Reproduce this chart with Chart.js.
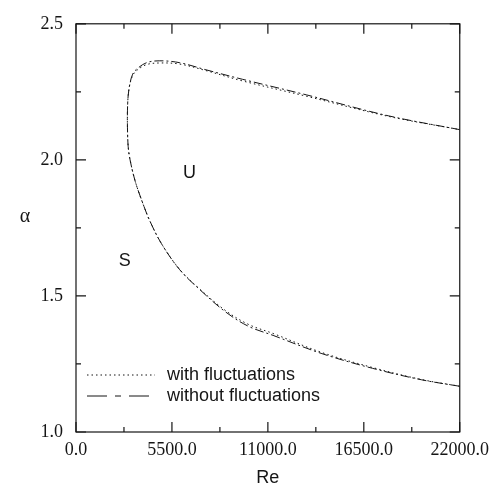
<!DOCTYPE html>
<html>
<head>
<meta charset="utf-8">
<script src="https://cdn.jsdelivr.net/npm/chart.js@4.4.1/dist/chart.umd.min.js"></script>
<style>
  body { margin: 0; background: #fff; }
  #wrap { width: 496px; height: 483px; }
</style>
</head>
<body>
<div id="wrap"><canvas id="graph"></canvas></div>
<script>
// neutral curve, ordered from lower branch end round the nose to upper branch end
const reWithout = [22000, 19800, 17000, 14100, 11300, 9900, 8600, 7100, 5950, 4900, 4230, 3850, 3400, 3100, 2990, 2950, 2950, 2990, 3090, 3250, 3470, 4040, 4800, 5950, 7450, 9550, 13200, 17900, 22000]
const alphaWithout = [1.168, 1.192, 1.234, 1.288, 1.355, 1.388, 1.44, 1.523, 1.596, 1.692, 1.776, 1.837, 1.92, 2.0, 2.05, 2.12, 2.18, 2.235, 2.28, 2.315, 2.333, 2.357, 2.364, 2.357, 2.331, 2.296, 2.239, 2.162, 2.111]

const reWith = [22000, 19800, 17000, 14100, 11300, 9900, 8600, 7100, 5950, 4900, 4230, 3850, 3400, 3100, 2990, 2950, 2950, 2990, 3090, 3250, 3470, 4040, 4800, 5950, 7450, 9550, 13200, 17900, 22000]
const alphaWith = [1.168, 1.193, 1.237, 1.292, 1.362, 1.395, 1.445, 1.525, 1.597, 1.692, 1.776, 1.837, 1.92, 2.0, 2.05, 2.12, 2.18, 2.235, 2.278, 2.31, 2.328, 2.35, 2.356, 2.352, 2.328, 2.29, 2.234, 2.16, 2.111]

const xMajor = [0, 5500, 11000, 16500, 22000]
const xMinor = [2750, 8250, 13750, 19250]
const yMajor = [1.0, 1.5, 2.0, 2.5]
const yMinor = [1.25, 1.75, 2.25]

const seriesNames = ['with fluctuations', 'without fluctuations']
const regionLabels = [
  { text: 'U', re: 6500, alpha: 1.952 },
  { text: 'S', re: 2800, alpha: 1.627 }
]

function toPoints(xs, ys) {
  return xs.map((x, i) => ({ x: x, y: ys[i] }))
}

const serif = 'Liberation Serif, Times New Roman, serif'
const sans = 'Liberation Sans, Arial, Helvetica, sans-serif'
const ink = '#151515'

// frame, inward ticks on all sides, legend and the U / S marks
const extras = {
  id: 'extras',
  afterDraw(chart) {
    const ctx = chart.ctx
    const a = chart.chartArea
    const xs = chart.scales.x
    const ys = chart.scales.y
    ctx.save()
    ctx.strokeStyle = ink
    ctx.lineWidth = 1.2
    ctx.setLineDash([])
    ctx.strokeRect(a.left, a.top, a.right - a.left, a.bottom - a.top)

    function xTick(v, len) {
      const p = xs.getPixelForValue(v)
      ctx.beginPath()
      ctx.moveTo(p, a.bottom); ctx.lineTo(p, a.bottom - len)
      ctx.moveTo(p, a.top); ctx.lineTo(p, a.top + len)
      ctx.stroke()
    }
    function yTick(v, len) {
      const p = ys.getPixelForValue(v)
      ctx.beginPath()
      ctx.moveTo(a.left, p); ctx.lineTo(a.left + len, p)
      ctx.moveTo(a.right, p); ctx.lineTo(a.right - len, p)
      ctx.stroke()
    }
    xMajor.forEach(v => xTick(v, 10))
    xMinor.forEach(v => xTick(v, 5))
    yMajor.forEach(v => yTick(v, 10))
    yMinor.forEach(v => yTick(v, 5))

    // legend
    ctx.lineWidth = 1
    const lx0 = a.left + 11, lx1 = a.left + 79
    ctx.setLineDash([1.5, 3])
    ctx.beginPath(); ctx.moveTo(lx0, 375); ctx.lineTo(lx1, 375); ctx.stroke()
    ctx.setLineDash([20, 8, 6, 8])
    ctx.beginPath(); ctx.moveTo(lx0, 396); ctx.lineTo(lx1, 396); ctx.stroke()
    ctx.setLineDash([])
    ctx.fillStyle = ink
    ctx.font = '18px ' + sans
    ctx.textAlign = 'left'
    ctx.textBaseline = 'middle'
    ctx.fillText(seriesNames[0], a.left + 91, 375)
    ctx.fillText(seriesNames[1], a.left + 91, 396)

    // region marks
    ctx.textAlign = 'center'
    regionLabels.forEach(l => {
      ctx.fillText(l.text, xs.getPixelForValue(l.re), ys.getPixelForValue(l.alpha))
    })

    // y axis symbol, upright
    ctx.font = '20px ' + serif
    ctx.fillText('\u03b1', 25, 217)
    ctx.restore()
  }
}

const graph = new Chart(document.getElementById('graph'), {
  type: 'scatter',
  data: {
    datasets: [{
      label: seriesNames[0],
      data: toPoints(reWith, alphaWith),
      showLine: true,
      borderColor: ink,
      borderWidth: 1,
      borderDash: [1.5, 3],
      pointRadius: 0,
      tension: 0.35
    }, {
      label: seriesNames[1],
      data: toPoints(reWithout, alphaWithout),
      showLine: true,
      borderColor: ink,
      borderWidth: 1,
      borderDash: [9, 3, 2, 3],
      pointRadius: 0,
      tension: 0.35
    }]
  },
  options: {
    responsive: true,
    maintainAspectRatio: false,
    animation: false,
    layout: { padding: { left: 0, right: 35, top: 16, bottom: 0 } },
    plugins: { legend: { display: false }, tooltip: { enabled: false } },
    scales: {
      x: {
        type: 'linear',
        min: 0,
        max: 22000,
        grid: { display: false, drawTicks: false },
        border: { display: false },
        afterBuildTicks(scale) { scale.ticks = xMajor.map(v => ({ value: v })) },
        afterFit(scale) { scale.height = 51 },
        ticks: {
          color: ink,
          padding: 7,
          maxRotation: 0,
          font: { family: serif, size: 18 },
          callback: v => v.toFixed(1)
        },
        title: {
          display: true,
          text: 'Re',
          color: ink,
          font: { family: sans, size: 18 },
          padding: { top: -6, bottom: -6 }
        }
      },
      y: {
        type: 'linear',
        min: 1.0,
        max: 2.5,
        grid: { display: false, drawTicks: false },
        border: { display: false },
        afterBuildTicks(scale) { scale.ticks = yMajor.map(v => ({ value: v })) },
        afterFit(scale) { scale.width = 76 },
        ticks: {
          color: ink,
          padding: 13,
          font: { family: serif, size: 18 },
          callback: v => v.toFixed(1)
        }
      }
    }
  },
  plugins: [extras]
})
</script>
</body>
</html>
